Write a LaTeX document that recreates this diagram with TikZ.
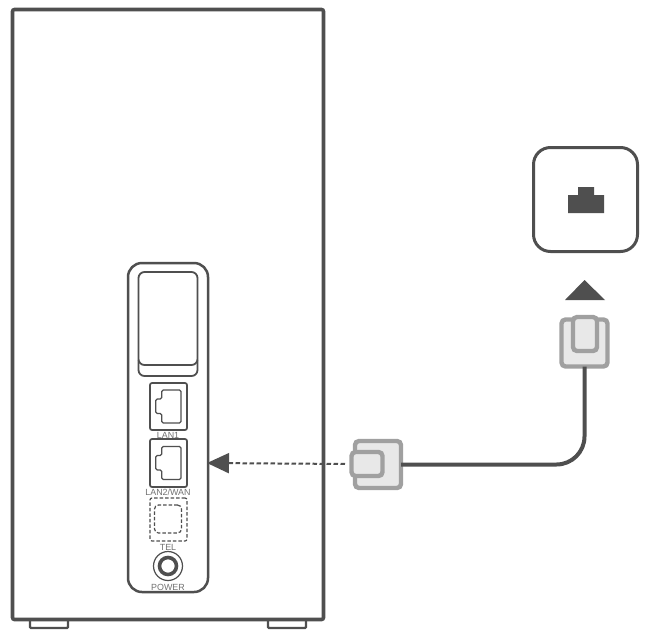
\documentclass[tikz,border=0pt]{standalone}
\usepackage{fontspec}
\setmainfont{Liberation Sans}
\usetikzlibrary{arrows.meta}
\definecolor{housing}{HTML}{4F4F4F}
\definecolor{plugedge}{HTML}{A0A0A0}
\definecolor{plugfill}{HTML}{E8E8E8}
\tikzset{
    frame/.style={draw=housing, fill=white, line width=1.8pt, inner sep=0pt, outer sep=0pt},
    portbox/.style={frame, line width=1.7pt, rounded corners=2pt, minimum width=37pt},
    plug/.style={draw=plugedge, fill=plugfill, line width=4.4pt, rounded corners=4pt, inner sep=0pt, outer sep=0pt},
    lbl/.style={text=housing!80, font=\fontsize{8.9}{10}\selectfont, inner sep=0pt},
    socket/.pic={
        \draw[pic actions, rounded corners=1.5pt] (-6.8,-16.5) -- (12.5,-16.5) -- (12.5,16.5) -- (-6.8,16.5) -- (-6.8,7) -- (-12.8,7) -- (-12.8,-7.5) -- (-6.8,-7.5) -- cycle;
    }
}
\begin{document}
\begin{tikzpicture}[x=1pt, y=-1pt]
    \useasboundingbox (0,0) rectangle (658,643);
    % feet
    \draw[housing, line width=2.2pt, fill=white, rounded corners=1pt] (30,620) -- (30,628) -- (68,628) -- (68,620);
    \draw[housing, line width=2.2pt, fill=white, rounded corners=1pt] (268,620) -- (268,628) -- (306,628) -- (306,620);
    % router body and back panel
    \node[frame, line width=3.6pt, rounded corners=2pt, minimum width=311pt, minimum height=610pt] (body) at (168,314.5) {};
    \node[frame, line width=2.5pt, rounded corners=14pt, minimum width=80pt, minimum height=329pt] (panel) at (168,427.5) {};
    % sim cover
    \draw[housing, line width=1.8pt, rounded corners=6pt] (138.5,360) -- (138.5,376) -- (197.5,376) -- (197.5,360);
    \node[frame, rounded corners=6pt, minimum width=59pt, minimum height=93pt] (cover) at (168,318.5) {};
    % ports
    \node[portbox, minimum height=47pt] (lanone) at (168.5,406.5) {};
    \pic[draw=housing, line width=1.2pt] at (168.5,406.5) {socket};
    \node[lbl, anchor=center] (lanonetext) at (168,435.5) {LAN1};
    \node[portbox, minimum height=48pt] (lantwo) at (168.5,463) {};
    \pic[draw=housing, line width=1.2pt] at (168.5,463) {socket};
    \node[lbl, anchor=center] (lantwotext) at (168,492.5) {LAN2/WAN};
    \node[draw=housing, line width=1.2pt, dash pattern=on 3.5pt off 2pt, rounded corners=2pt, minimum width=37pt, minimum height=43pt] (telbox) at (168.5,519.5) {};
    \node[draw=housing, line width=1.2pt, dash pattern=on 3.5pt off 2pt, rounded corners=4pt, minimum width=27pt, minimum height=28pt] (telport) at (168,519) {};
    \node[lbl, anchor=center] (teltext) at (168,547) {TEL};
    \node[circle, draw=housing, line width=1.2pt, minimum size=29pt, inner sep=0pt] (powerring) at (168,566) {};
    \node[circle, draw=housing, line width=3.6pt, minimum size=17pt, inner sep=0pt] (powerjack) at (168,566) {};
    \node[lbl, anchor=center] (powertext) at (168,587) {POWER};
    % wall socket
    \node[frame, line width=3pt, rounded corners=17pt, minimum width=104pt, minimum height=104pt] (wall) at (585.5,199.5) {};
    \fill[housing] (568,213) -- (568,195) -- (578,195) -- (578,187) -- (594,187) -- (594,195) -- (604,195) -- (604,213) -- cycle;
    \fill[housing] (565,300) -- (584.5,280) -- (605,300) -- cycle;
    % cable between the two plugs
    \node[plug, minimum width=46pt, minimum height=47pt] (sideplug) at (378,464.5) {};
    \node[plug, minimum width=46pt, minimum height=47pt] (topplug) at (584.5,343) {};
    \draw[housing, line width=4pt, rounded corners=28pt] (sideplug.east) -- (584.5,464.5) -- (topplug.south);
    % plug fronts
    \node[plug, minimum width=31pt, minimum height=24pt] (sideplugin) at (367,464) {};
    \node[plug, minimum width=24pt, minimum height=34pt] (topplugin) at (585,334) {};
    % dashed insert arrow
    \draw[housing, line width=2pt, dash pattern=on 4.5pt off 2.5pt, shorten >=5pt, {Triangle[length=22pt, width=20pt]}-] ([xshift=-1pt]lantwo.east -| panel.east) -- (sideplugin.west);
\end{tikzpicture}
\end{document}
